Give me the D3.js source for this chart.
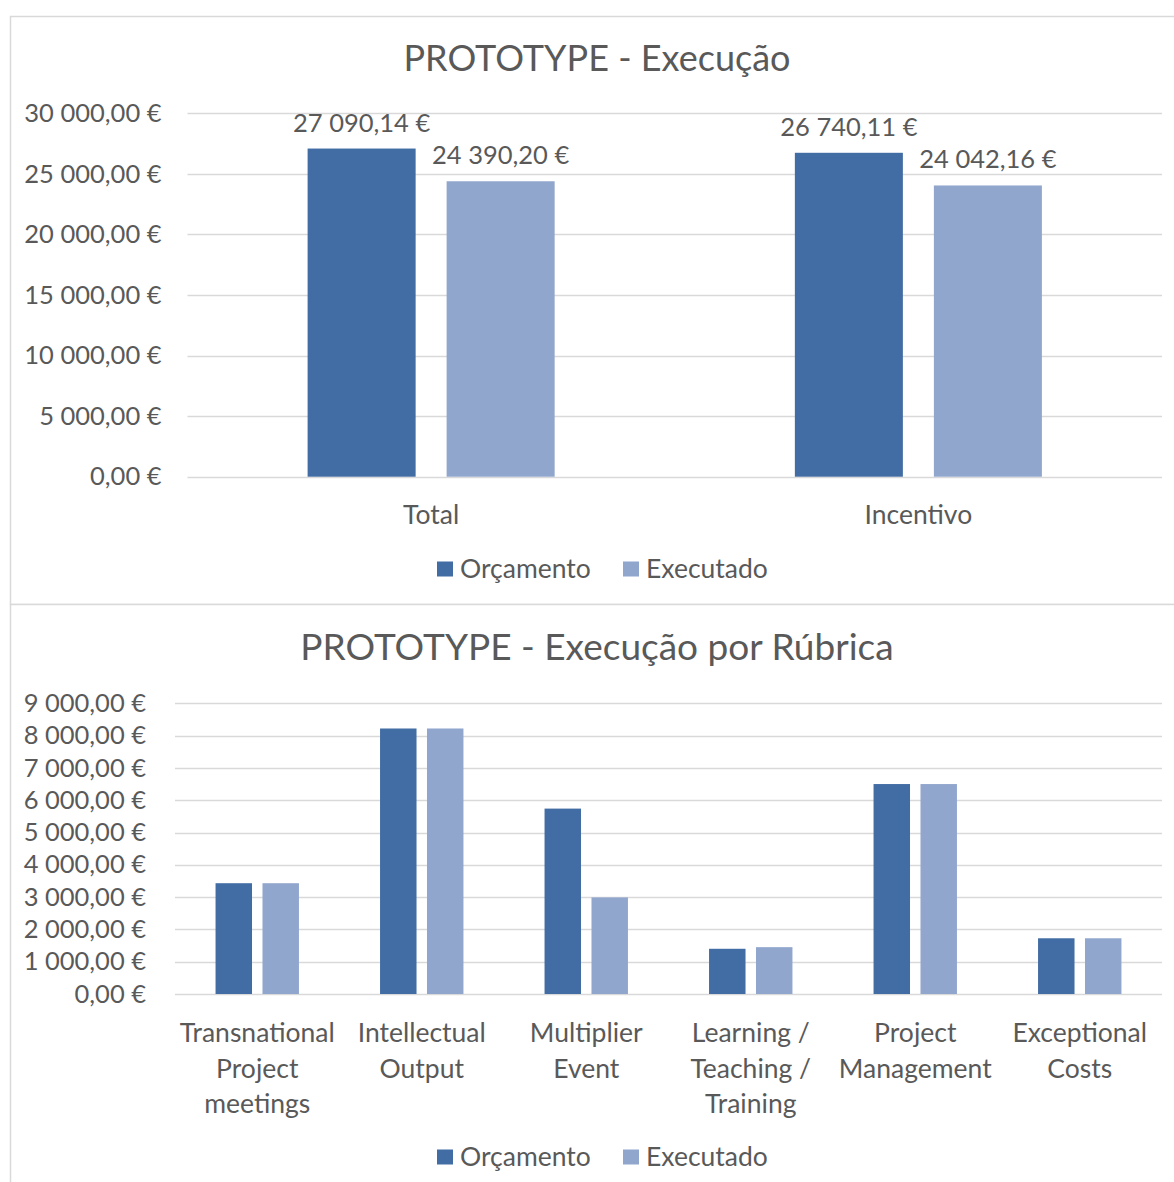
<!DOCTYPE html>
<html>
<head>
<meta charset="utf-8">
<script src="https://cdnjs.cloudflare.com/ajax/libs/d3/7.8.5/d3.min.js"></script>
<style>
  html, body { margin: 0; padding: 0; background: #fff; }
  svg { display: block; font-family: "Lato", "Open Sans", sans-serif; }
</style>
</head>
<body>
<svg id="chart" width="1174" height="1182"></svg>
<script>
// Series and colours shared by both charts
const series = ["Orçamento", "Executado"];
const seriesColors = ["#416ca4", "#91a6cd"];

// Chart 1: totals
const totalCategories = ["Total", "Incentivo"];
const totalOrcamento = [27090.14, 26740.11];
const totalExecutado = [24390.20, 24042.16];
const totalTicks = [0, 5000, 10000, 15000, 20000, 25000, 30000];

// Chart 2: by budget heading
const rubricaCategories = [
  ["Transnational", "Project", "meetings"],
  ["Intellectual", "Output"],
  ["Multiplier", "Event"],
  ["Learning /", "Teaching /", "Training"],
  ["Project", "Management"],
  ["Exceptional", "Costs"]
];
const rubricaOrcamento = [3430, 8220, 5740, 1400, 6500, 1725];
const rubricaExecutado = [3430, 8220, 2990, 1450, 6500, 1725];
const rubricaTicks = [0, 1000, 2000, 3000, 4000, 5000, 6000, 7000, 8000, 9000];

const locale = d3.formatLocale({ decimal: ",", thousands: "\u00a0", grouping: [3], currency: ["", ""] });
const num = locale.format(",.2f");
const euro = v => num(v) + " €";

const textColor = "#595959";
const gridColor = "#d9d9d9";
const numberSize = "25.5px";
const labelSize = "26.5px";

const svg = d3.select("#chart");

// Chart frames
svg.append("rect").attr("x", 10.5).attr("y", 16.5).attr("width", 1200).attr("height", 588)
  .attr("fill", "#fff").attr("stroke", gridColor).attr("stroke-width", 1.5);
svg.append("rect").attr("x", 10.5).attr("y", 604.5).attr("width", 1200).attr("height", 600)
  .attr("fill", "#fff").attr("stroke", gridColor).attr("stroke-width", 1.5);

function drawChart(cfg) {
  const g = svg.append("g");
  const rows = cfg.categories.map((c, i) => ({
    key: i, label: c, values: [cfg.orc[i], cfg.exe[i]]
  }));

  const x = d3.scaleBand().domain(rows.map(r => r.key))
    .range([cfg.left, cfg.right]).paddingInner(0.493).paddingOuter(0.2465);
  const xs = d3.scaleBand().domain(series).range([0, x.bandwidth()]).paddingInner(0.223);
  const y = d3.scaleLinear().domain([0, cfg.max]).range([cfg.bottom, cfg.top]);

  // Title
  g.append("text").attr("x", 597).attr("y", cfg.titleY)
    .attr("text-anchor", "middle").attr("fill", textColor)
    .style("font-size", cfg.titleSize).text(cfg.title);

  // Gridlines
  g.append("g").selectAll("line").data(cfg.ticks).join("line")
    .attr("x1", cfg.left).attr("x2", cfg.right)
    .attr("y1", d => Math.round(y(d)) + 0.5).attr("y2", d => Math.round(y(d)) + 0.5)
    .attr("stroke", gridColor).attr("stroke-width", 1.5);

  // Y axis labels
  const yAxis = d3.axisLeft(y).tickValues(cfg.ticks).tickFormat(euro)
    .tickSize(0).tickPadding(cfg.tickPad);
  const ya = g.append("g").attr("transform", `translate(${cfg.left},0)`).call(yAxis);
  ya.select(".domain").remove();
  ya.selectAll("text").attr("fill", textColor).style("font-size", numberSize)
    .style("font-family", "Lato, 'Open Sans', sans-serif");

  // Bars
  const grp = g.append("g").selectAll("g").data(rows).join("g")
    .attr("transform", d => `translate(${x(d.key)},0)`);
  grp.selectAll("rect").data(d => d.values.map((v, j) => ({ s: series[j], v, j })))
    .join("rect")
    .attr("x", d => xs(d.s)).attr("width", xs.bandwidth())
    .attr("y", d => y(d.v)).attr("height", d => y(0) - y(d.v))
    .attr("fill", d => seriesColors[d.j]);

  // Value labels
  if (cfg.valueLabels) {
    grp.selectAll("text.val").data(d => d.values.map((v, j) => ({ s: series[j], v })))
      .join("text").attr("class", "val")
      .attr("x", d => xs(d.s) + xs.bandwidth() / 2).attr("y", d => y(d.v) - 17)
      .attr("text-anchor", "middle").attr("fill", textColor)
      .style("font-size", numberSize).text(d => euro(d.v));
  }

  // Category labels
  const cat = g.append("g").selectAll("text").data(rows).join("text")
    .attr("x", d => x(d.key) + x.bandwidth() / 2).attr("y", cfg.catY)
    .attr("text-anchor", "middle").attr("fill", textColor).style("font-size", labelSize);
  cat.selectAll("tspan").data(d => Array.isArray(d.label) ? d.label : [d.label]).join("tspan")
    .attr("x", function () { return this.parentNode.getAttribute("x"); })
    .attr("dy", (d, i) => i === 0 ? 0 : 35.5).text(d => d);

  // Legend
  const leg = g.append("g").attr("transform", `translate(0,${cfg.legendY})`);
  const legX = [437, 623];
  series.forEach((s, j) => {
    leg.append("rect").attr("x", legX[j]).attr("y", -7.5).attr("width", 16).attr("height", 15)
      .attr("fill", seriesColors[j]);
    leg.append("text").attr("x", legX[j] + 23).attr("y", 9).attr("fill", textColor)
      .style("font-size", labelSize).text(s);
  });
}

drawChart({
  title: "PROTOTYPE - Execução", titleY: 71, titleSize: "36px",
  categories: totalCategories, orc: totalOrcamento, exe: totalExecutado,
  ticks: totalTicks, max: 30000,
  left: 187.5, right: 1162, top: 113.3, bottom: 476.7,
  tickPad: 26, valueLabels: true, catY: 524, legendY: 569
});

drawChart({
  title: "PROTOTYPE - Execução por Rúbrica", titleY: 660, titleSize: "37px",
  categories: rubricaCategories, orc: rubricaOrcamento, exe: rubricaExecutado,
  ticks: rubricaTicks, max: 9000,
  left: 175, right: 1162, top: 703.3, bottom: 994,
  tickPad: 29, valueLabels: false, catY: 1042, legendY: 1157
});
</script>
</body>
</html>
